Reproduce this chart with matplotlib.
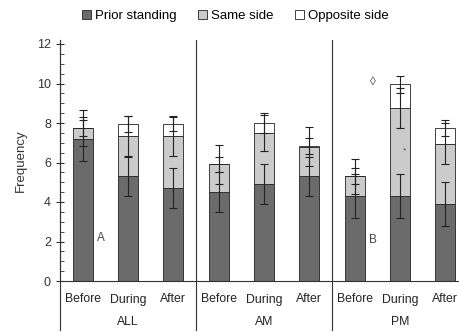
import numpy as np
import matplotlib.pyplot as plt

# stacked frequencies with SE bars
periods = ['Before', 'During', 'After'] * 3
groups = ['ALL', 'AM', 'PM']
prior = [7.2, 5.3, 4.7, 4.5, 4.9, 5.3, 4.3, 4.3, 3.9]
same = [0.55, 2.05, 2.65, 1.4, 2.6, 1.5, 1.0, 4.45, 3.05]
opposite = [0.0, 0.6, 0.6, 0.0, 0.5, 0.05, 0.0, 1.2, 0.8]
prior_err = [1.1, 1.0, 1.0, 1.0, 1.0, 1.0, 1.1, 1.1, 1.1]
same_err = [0.9, 1.0, 1.0, 1.0, 0.9, 1.0, 0.9, 1.0, 1.05]
opp_err = [0.4, 0.4, 0.35, 0.4, 0.5, 0.4, 0.4, 0.45, 0.4]

plt.rcParams['font.family'] = ['Liberation Sans', 'DejaVu Sans']
fig = plt.figure(figsize=(4.59, 3.36), dpi=100)
ax = fig.add_axes([60 / 459, 1 - 281 / 336, 1 - 60 / 459, (281 - 44) / 336 * 12.2 / 12])

x = np.arange(len(prior))
prior = np.array(prior)
same = np.array(same)
opposite = np.array(opposite)
w = 0.44
ax.bar(x, prior, w, color='#6b6b6b', edgecolor='#222222', linewidth=0.6, label='Prior standing')
ax.bar(x, same, w, bottom=prior, color='#cbcbcb', edgecolor='#222222', linewidth=0.6, label='Same side')
ax.bar(x, opposite, w, bottom=prior + same, color='white', edgecolor='#222222', linewidth=0.6, label='Opposite side')

ek = dict(fmt='none', ecolor='#222222', elinewidth=0.8, capsize=3, capthick=0.8)
ax.errorbar(x, prior, yerr=prior_err, **ek)
ax.errorbar(x, prior + same, yerr=same_err, **ek)
ax.errorbar(x, prior + same + opposite, yerr=opp_err, **ek)

ax.set_xlim(-0.5, 8.3)
ax.set_ylim(0, 12.2)
ax.set_yticks(range(0, 13, 2))
ax.set_yticks(np.arange(0, 12.01, 0.5), minor=True)
ax.tick_params(axis='y', which='major', direction='inout', length=6, labelsize=9, colors='#333333', width=0.8)
ax.tick_params(axis='y', which='minor', direction='in', length=3, width=0.6, color='#333333')
ax.set_xticks(x)
ax.set_xticklabels(periods, fontsize=8.8)
ax.tick_params(axis='x', length=0, pad=9, colors='#222222')
for s in ['top', 'right']:
    ax.spines[s].set_visible(False)
ax.spines['left'].set_color('#333333')
ax.spines['bottom'].set_color('#333333')
ax.set_ylabel('Frequency', fontsize=9.5, color='#333333', labelpad=7)

# group separators and labels
for b in [-0.5, 2.5, 5.5]:
    ax.plot([b, b], [-2.5, 12.2], color='#333333', lw=0.8, clip_on=False)
for i, g in enumerate(groups):
    ax.text(3 * i + 1, -2.1, g, ha='center', va='center', fontsize=8.8, color='#222222')

ax.text(0.4, 2.2, 'A', ha='center', va='center', fontsize=8.5, color='#444444')
ax.text(6.4, 2.1, 'B', ha='center', va='center', fontsize=8.5, color='#444444')
ax.text(6.4, 10.1, '◊', ha='center', va='center', fontsize=8.5, color='#444444')
ax.text(7.1, 6.6, '*', ha='center', va='center', fontsize=6, color='#444444')

ax.legend(loc='upper center', bbox_to_anchor=(0.44, 1.175), ncol=3, frameon=False,
          fontsize=9.5, handlelength=0.7, handleheight=0.7, handletextpad=0.3, columnspacing=1.6)

fig.savefig('out.png', dpi=100)
